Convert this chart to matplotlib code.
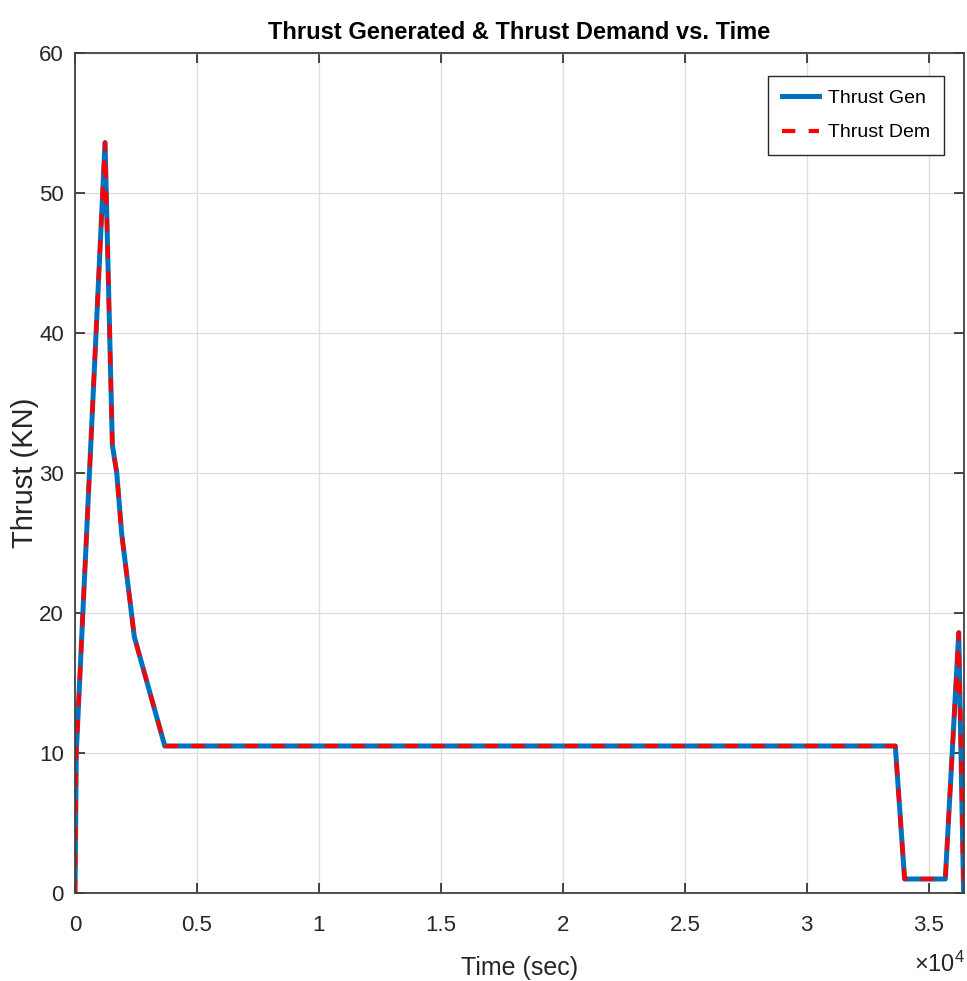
import numpy as np
import matplotlib.pyplot as plt
from matplotlib.ticker import FuncFormatter

# thrust profile over the mission (seconds, kN)
time_s = [0, 50, 1230, 1530, 1710, 1910, 2250, 2430, 3680,
          33630, 34010, 35680, 36230, 36430]
thrust_gen = [0, 10, 53.6, 32.0, 30.0, 25.7, 20.9, 18.3, 10.5,
              10.5, 1.0, 1.0, 18.6, 0]
thrust_dem = list(thrust_gen)

xticks = [0, 5000, 10000, 15000, 20000, 25000, 30000, 35000]
yticks = [0, 10, 20, 30, 40, 50, 60]

plt.rcParams['font.family'] = ['Liberation Sans Narrow', 'Liberation Sans', 'DejaVu Sans']
plt.rcParams['mathtext.fontset'] = 'custom'
plt.rcParams['mathtext.rm'] = 'Liberation Sans'

fig = plt.figure(figsize=(9.67, 9.81), dpi=100)
ax = fig.add_axes([0.0776, 0.0897, 0.9194, 0.8563])

ax.plot(time_s, thrust_gen, color='#0072BD', lw=3.6, label='Thrust Gen',
        solid_joinstyle='round')
ax.plot(time_s, thrust_dem, color='#FF0000', lw=3.0, ls=(0, (3.2, 3.2)),
        label='Thrust Dem')

ax.set_xlim(0, 36450)
ax.set_ylim(0, 60)
ax.set_xticks(xticks)
ax.set_yticks(yticks)
ax.xaxis.set_major_formatter(FuncFormatter(lambda v, p: '%g' % (v / 1e4)))

ax.grid(True, color='#dedede', lw=1.0)
ax.set_axisbelow(True)
ax.tick_params(direction='in', length=7, width=1.2, colors='#262626',
               labelsize=16, top=True, right=True)
ax.tick_params(axis='x', pad=16)
ax.tick_params(axis='y', pad=8)
for s in ax.spines.values():
    s.set_color('#404040')
    s.set_linewidth(1.3)

ax.set_title('Thrust Generated & Thrust Demand vs. Time', fontsize=17,
             fontweight='bold', pad=10)
ax.set_xlabel('Time (sec)', fontsize=18, color='#262626', labelpad=14)
ax.set_ylabel('Thrust (KN)', fontsize=21, color='#262626', labelpad=0)
fig.text(0.945, 0.004, r'$\mathregular{\times10^{4}}$', fontsize=17,
         color='#262626', ha='left', va='bottom')

leg = ax.legend(loc='upper right', bbox_to_anchor=(0.9775, 0.9726),
                fontsize=14, fancybox=False, edgecolor='#262626',
                framealpha=1, handlelength=1.9, handletextpad=0.5,
                borderaxespad=0, borderpad=0.7, labelspacing=0.85)
leg.get_frame().set_linewidth(1.0)

fig.savefig('out.png', dpi=100)
